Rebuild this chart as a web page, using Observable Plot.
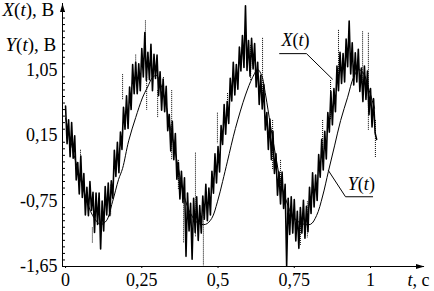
<!DOCTYPE html>
<html><head><meta charset="utf-8">
<script src="https://cdn.jsdelivr.net/npm/d3@7"></script>
<script src="https://cdn.jsdelivr.net/npm/@observablehq/plot@0.6"></script>
<style>
html,body{margin:0;padding:0;background:#fff;}
#chart svg{display:block;}
</style>
</head><body><div id="chart"></div>
<script>
// sampling of the noisy signal X(t)
const xStart = 0, xStep = 0.005;
const xValues = [
0.56,0.04,0.37,-0.14,0.33,-0.16,0.15,-0.46,-0.22,-0.65,
-0.13,-0.70,-0.37,-0.94,-0.56,-0.95,-0.48,-0.88,-0.63,-1.18,
-0.64,-1.07,-0.64,-1.41,-0.75,-1.16,-0.55,-0.94,-0.50,-0.95,
-0.47,-0.71,-0.05,-0.41,0.06,-0.36,0.20,-0.04,0.54,0.24,
0.70,0.25,0.82,0.51,1.13,0.73,1.16,0.73,1.14,0.77,
1.35,0.96,1.57,0.91,1.30,0.92,1.41,0.77,1.27,0.94,
1.26,0.70,1.03,0.50,0.93,0.48,0.83,0.22,0.44,-0.06,
0.35,-0.18,0.18,-0.45,-0.22,-0.72,-0.34,-0.77,-0.43,-1.51,
-0.64,-1.16,-0.78,-1.55,-0.71,-1.18,-0.69,-1.29,-0.81,-1.19,
-0.68,-1.00,-0.52,-1.02,-0.57,-0.94,-0.34,-0.64,-0.10,-0.50,
0.00,-0.35,0.29,0.03,0.58,0.17,0.62,0.32,0.94,0.63,
1.16,0.71,1.13,0.79,1.37,1.04,1.53,1.09,1.94,1.05,
1.46,0.97,1.49,1.07,1.42,0.82,1.16,0.58,0.98,0.52,
0.85,0.23,0.47,-0.04,0.38,-0.18,0.21,-0.37,-0.10,-0.67,
-0.35,-0.79,-0.35,-0.85,-0.52,-1.64,-0.71,-1.21,-0.69,-1.19,
-0.73,-1.30,-0.89,-1.40,-0.84,-1.19,-0.74,-1.26,-0.82,-1.17,
-0.56,-0.92,-0.36,-0.83,-0.39,-0.74,-0.11,-0.42,0.10,-0.32,
0.21,-0.17,0.47,0.20,0.76,0.30,0.80,0.48,1.11,0.77,
1.30,0.87,1.28,0.89,1.48,1.10,1.73,1.00,1.43,0.85,
1.29,0.89,1.34,0.76,1.08,0.62,1.11,0.65,1.04,0.44,
0.80,0.27,0.66,0.19,0.10
];
// smooth response Y(t)
const yT = [0,0.033,0.066,0.089,0.115,0.134,0.154,0.174,0.187,0.207,0.230,0.252,0.269,0.285,0.298,0.311,0.328,0.344,0.361,0.377,0.393,0.410,0.433,0.459,0.479,0.498,0.515,0.531,0.557,0.590,0.613,0.630,0.643,0.656,0.672,0.689,0.705,0.725,0.744,0.770,0.803,0.823,0.843,0.862,0.882,0.902,0.925,0.944,0.961,0.977,0.993,1.013];
const yV = [0.39,-0.20,-0.69,-0.95,-1.07,-1.02,-0.76,-0.45,-0.30,0.08,0.40,0.67,0.82,0.95,0.98,0.87,0.60,0.25,-0.10,-0.45,-0.74,-0.92,-1.05,-1.07,-0.99,-0.76,-0.48,-0.20,0.25,0.71,0.95,1.06,0.98,0.71,0.29,-0.13,-0.48,-0.76,-0.95,-1.05,-1.07,-0.95,-0.68,-0.34,0.01,0.36,0.68,0.95,1.06,1.01,0.81,0.53];
// dotted spikes of X(t)
const spikeT = [0.049,0.088,0.148,0.187,0.230,0.262,0.266,0.302,0.321,0.348,0.370,0.387,0.426,0.452,0.498,0.531,0.607,0.646,0.679,0.705,0.770,0.793,0.843,0.869,0.895,0.974,0.993,1.016];
const spikeTop = [-0.05,-1.12,-0.53,0.99,1.26,1.73,0.95,0.77,0.95,0.77,-0.19,-0.76,-0.09,-0.86,0.46,0.73,1.39,1.49,0.36,-0.19,-0.88,-0.76,0.36,0.91,1.60,1.58,1.56,0.36];
const spikeBottom = [-0.40,-1.33,-0.95,0.64,0.93,1.20,0.50,0.40,0.82,-0.19,-0.60,-1.33,-1.25,-1.64,0.04,0.40,0.91,0.64,-0.33,-0.74,-1.36,-1.26,-0.19,0.36,0.97,0.88,0.22,-0.16];
// ticks
const xTickValues = [0,0.25,0.5,0.75,1];
const yTickValues = [-1.65,-0.75,0.15,1.05];
const yMinorTicks = [-1.56,-1.47,-1.38,-1.29,-1.20,-1.11,-1.02,-0.93,-0.84,-0.66,-0.57,-0.48,-0.39,-0.30,-0.21,-0.12,-0.03,0.06,0.24,0.33,0.42,0.51,0.60,0.69,0.78,0.87,0.96,1.14,1.23,1.32,1.41,1.50,1.59,1.68,1.77,1.86];
// labels
const axisLabelX = "X(t), В";
const axisLabelY = "Y(t), В";
const timeLabel = "t, с";
const seriesNames = ["X(t)", "Y(t)"];
const seriesLabelT = [0.754, 0.970];
const seriesLabelV = [1.46, -0.52];
const pointerX_T = [0.702, 0.790, 0.875];
const pointerX_V = [1.28, 1.28, 0.93];
const pointerY_T = [0.862, 0.918, 1.007];
const pointerY_V = [-0.33, -0.69, -0.69];

const tMin = -0.01, tMax = 1.177, vMin = -1.65, vMax = 1.97;

const xData = xValues.map((v, i) => ({t: xStart + i * xStep, v}));
const yData = yT.map((t, i) => ({t, v: yV[i]}));
const spikes = spikeT.map((t, i) => ({t, y1: spikeTop[i], y2: spikeBottom[i]}));
const labelData = seriesNames.map((s, i) => ({s, t: seriesLabelT[i], v: seriesLabelV[i]}));
const pX = pointerX_T.map((t, i) => ({t, v: pointerX_V[i]}));
const pY = pointerY_T.map((t, i) => ({t, v: pointerY_V[i]}));
const fmt = d => String(d).replace(".", ",");

const arrowSymbol = {draw(ctx) { ctx.moveTo(0, -4.5); ctx.lineTo(2.5, 4); ctx.lineTo(-2.5, 4); ctx.closePath(); }};

const svg = Plot.plot({
  width: 434, height: 291,
  marginLeft: 62, marginRight: 10, marginTop: 3, marginBottom: 25,
  style: {fontFamily: "'Liberation Serif', 'Times New Roman', serif", fontSize: "18px", background: "#fff", color: "#000"},
  x: {domain: [tMin, tMax]},
  y: {domain: [vMin, vMax]},
  marks: [
    Plot.axisX({ticks: xTickValues, tickFormat: fmt, tickSize: 2, tickPadding: 5, label: null}),
    Plot.axisY({ticks: yTickValues, tickFormat: fmt, tickSize: 0, tickPadding: 5, label: null}),
    Plot.tickY(yMinorTicks, {y: d => d, insetRight: 359, stroke: "black"}),
    Plot.ruleX([tMin], {y1: vMin, y2: vMax, stroke: "black"}),
    Plot.ruleY([vMin], {x1: tMin, x2: tMax, stroke: "black"}),
    Plot.dot([{t: tMin, v: vMax}], {x: "t", y: "v", dy: 4.5, symbol: arrowSymbol, fill: "black", stroke: "none"}),
    Plot.dot([{t: tMax, v: vMin}], {x: "t", y: "v", dx: -4.5, rotate: 90, symbol: arrowSymbol, fill: "black", stroke: "none"}),
    Plot.ruleX(spikes, {x: "t", y1: "y1", y2: "y2", stroke: "black", strokeDasharray: "1,1"}),
    Plot.line(xData, {x: "t", y: "v", stroke: "black", strokeWidth: 1.6}),
    Plot.line(yData, {x: "t", y: "v", stroke: "black", strokeWidth: 1, curve: "catmull-rom"}),
    Plot.line(pX, {x: "t", y: "v", stroke: "black", strokeWidth: 1}),
    Plot.line(pY, {x: "t", y: "v", stroke: "black", strokeWidth: 1}),
    Plot.text(labelData, {x: "t", y: "v", text: "s", fontSize: 18, fill: "black"}),
    Plot.text([axisLabelX], {frameAnchor: "top-left", dx: -60, dy: 6, textAnchor: "start", lineAnchor: "middle", fontSize: 19, fill: "black"}),
    Plot.text([axisLabelY], {frameAnchor: "top-left", dx: -57, dy: 41, textAnchor: "start", lineAnchor: "middle", fontSize: 19, fill: "black"}),
    Plot.text([timeLabel], {frameAnchor: "bottom-right", dx: -17, dy: 14, textAnchor: "start", lineAnchor: "middle", fontSize: 18, fill: "black"})
  ]
});

// italicise variable letters (X, Y, t) in the labels
d3.select(svg).selectAll("text").each(function() {
  const s = this.textContent;
  if (!/\(t\)|^t,/.test(s) || this.querySelector("tspan")) return;
  const el = d3.select(this);
  el.text(null);
  let buf = "", ital = null;
  const flush = () => { if (buf) el.append("tspan").attr("font-style", ital ? "italic" : "normal").text(buf); buf = ""; };
  for (const ch of s) {
    const it = "XYt".includes(ch);
    if (ital !== null && it !== ital) flush();
    ital = it; buf += ch;
  }
  flush();
});

document.getElementById("chart").appendChild(svg);
</script>
</body></html>
